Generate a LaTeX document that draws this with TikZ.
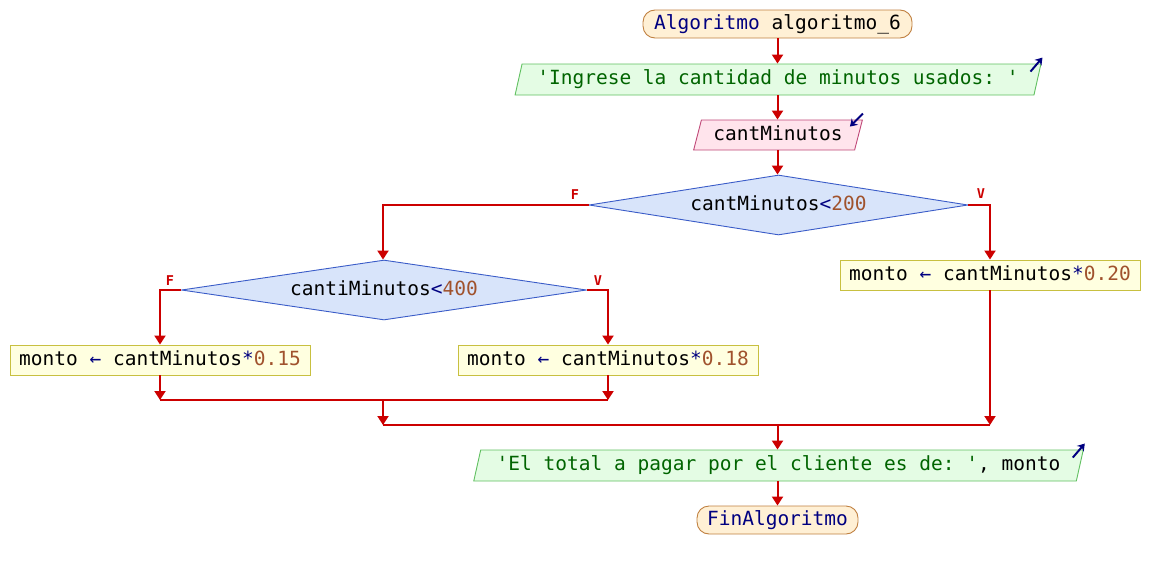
\documentclass[tikz,border=0pt]{standalone}
\usepackage{fontspec}
\setmonofont{DejaVu Sans Mono}
\usetikzlibrary{shapes.geometric,arrows.meta,calc}
\definecolor{flow}{HTML}{CC0000}
\definecolor{navy}{HTML}{000080}
\definecolor{strg}{HTML}{006400}
\definecolor{numc}{HTML}{A0522D}
\definecolor{termF}{HTML}{FFF0D5}
\definecolor{termD}{HTML}{C08040}
\definecolor{outF}{HTML}{E4FCE4}
\definecolor{outD}{HTML}{60C060}
\definecolor{inF}{HTML}{FFE4EC}
\definecolor{inD}{HTML}{C04878}
\definecolor{decF}{HTML}{D8E4FA}
\definecolor{decD}{HTML}{3A5CC8}
\definecolor{prF}{HTML}{FFFFE0}
\definecolor{prD}{HTML}{C8C040}
\newcommand{\codefont}{\ttfamily\fontsize{19.5}{22}\selectfont}
\tikzset{
  base/.style={font=\codefont, inner sep=0pt, line width=0.9pt, text height=14pt, text depth=4pt},
  term/.style={base, draw=termD, fill=termF, rounded corners=12pt},
  outbox/.style={base, draw=outD, fill=outF, trapezium, trapezium left angle=70, trapezium right angle=110, trapezium stretches=true},
  inbox/.style={base, draw=inD, fill=inF, trapezium, trapezium left angle=70, trapezium right angle=110, trapezium stretches=true},
  decbox/.style={base, draw=decD, fill=decF, diamond, aspect=6.5},
  procbox/.style={base, draw=prD, fill=prF},
  flowline/.style={draw=flow, line width=2pt},
  flowarrow/.style={flowline, -{Triangle[width=11pt,length=9pt]}},
  tflabel/.style={font=\ttfamily\bfseries\fontsize{13.5}{15}\selectfont, text=flow, inner sep=0pt},
  ioicon/.style={draw=navy, line width=2pt, -{Stealth[length=7pt,width=9pt]}}
}
\begin{document}
\begin{tikzpicture}[x=1pt,y=-1pt]
\useasboundingbox (0,0) rectangle (1150,570);
\node[term, minimum width=269pt, minimum height=28pt] (start) at (777.5,24) {\textcolor{navy}{Algoritmo} algoritmo\_6};
\node[outbox, minimum width=528pt, minimum height=31pt] (out1) at (778,79.5) {\textcolor{strg}{'Ingrese la cantidad de minutos usados: '}};
\node[inbox, minimum width=169pt, minimum height=30pt] (in) at (778,135) {cantMinutos};
\node[decbox, minimum width=379pt, minimum height=60pt] (d1) at (778.5,205) {cantMinutos\textcolor{navy}{<}\textcolor{numc}{200}};
\node[procbox, minimum width=300pt, minimum height=30pt] (p20) at (990,275) {monto \textcolor{navy}{←} cantMinutos\textcolor{navy}{*}\textcolor{numc}{0.20}};
\node[decbox, minimum width=405pt, minimum height=60pt] (d2) at (384,290) {cantiMinutos\textcolor{navy}{<}\textcolor{numc}{400}};
\node[procbox, minimum width=300pt, minimum height=30pt] (p15) at (160,360) {monto \textcolor{navy}{←} cantMinutos\textcolor{navy}{*}\textcolor{numc}{0.15}};
\node[procbox, minimum width=300pt, minimum height=30pt] (p18) at (608,360) {monto \textcolor{navy}{←} cantMinutos\textcolor{navy}{*}\textcolor{numc}{0.18}};
\node[outbox, minimum width=613pt, minimum height=31pt] (out2) at (778.5,465.5) {\textcolor{strg}{'El total a pagar por el cliente es de: '}, monto};
\node[term, minimum width=161pt, minimum height=28pt] (end) at (777.5,520) {\textcolor{navy}{FinAlgoritmo}};
% labels
\node[tflabel] (lf1) at (575,195) {F};
\node[tflabel] (lv1) at (981,194) {V};
\node[tflabel] (lf2) at (170,281) {F};
\node[tflabel] (lv2) at (598,281) {V};
% io icons
\draw[ioicon] ($(out1.top right corner)+(-11,8)$) -- ($(out1.top right corner)+(1,-6)$);
\draw[ioicon] ($(out2.top right corner)+(-11,8)$) -- ($(out2.top right corner)+(1,-6)$);
\draw[ioicon] ($(in.top right corner)+(0,-6)$) -- ($(in.top right corner)+(-13,7)$);
% junction coordinates
\coordinate (j1l) at (p15.south |- 0,400);
\coordinate (j1r) at (p18.south |- 0,400);
\coordinate (j1) at (383,400);
\coordinate (j2) at (383,425);
\coordinate (j2r) at (p20.south |- 0,425);
\coordinate (j2m) at (777.5,425);
% connectors
\draw[flowarrow] (start.south) -- (start.south |- out1.north);
\draw[flowarrow] (start.south |- out1.south) -- (start.south |- in.north);
\draw[flowarrow] (start.south |- in.south) -- (start.south |- d1.north);
\draw[flowarrow] (d1.west) -| (j1 |- d2.north);
\draw[flowarrow] (d1.east) -| (p20.north);
\draw[flowarrow] (d2.west) -| (p15.north);
\draw[flowarrow] (d2.east) -| (p18.north);
\draw[flowarrow] (p15.south) -- (j1l);
\draw[flowarrow] (p18.south) -- (j1r);
\draw[flowline] (j1l) -- (j1r);
\draw[flowarrow] (j1) -- (j2);
\draw[flowarrow] (p20.south) -- (j2r);
\draw[flowline] (j2) -- (j2r);
\draw[flowarrow] (j2m) -- (j2m |- out2.north);
\draw[flowarrow] (j2m |- out2.south) -- (end.north);
\end{tikzpicture}
\end{document}
